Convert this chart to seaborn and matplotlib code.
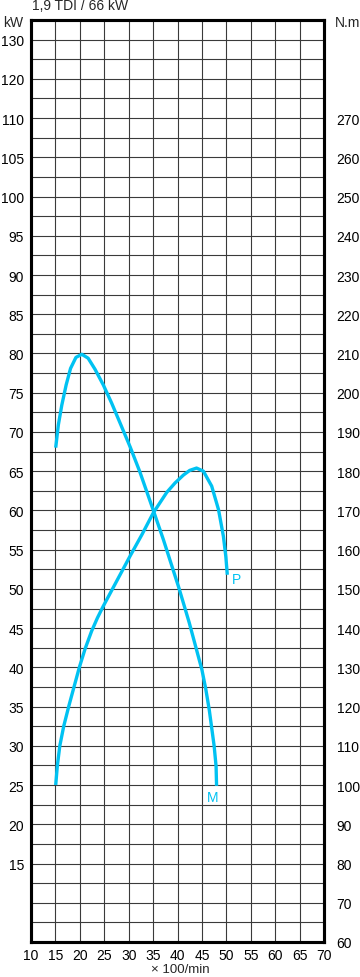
import matplotlib
matplotlib.use("Agg")
import matplotlib.pyplot as plt
from matplotlib.ticker import MultipleLocator, FixedLocator
import seaborn as sns
import pandas as pd

# ---- data ----
title = "1,9 TDI / 66 kW"
x_label = "× 100/min"

power_rpm = [15.06, 15.4, 15.9, 16.7, 17.8, 19.9, 21.1, 22.4, 23.6, 24.8, 27.55, 30.3, 32.7, 35.05, 37.8, 39.5, 41.2, 42.5, 43.9, 45.3, 47.0, 48.4, 49.4, 49.9, 50.2]
power_kw = [25.0, 27.5, 30.0, 32.5, 35.2, 40.0, 42.4, 44.6, 46.3, 47.8, 51.0, 54.2, 56.9, 59.7, 62.3, 63.5, 64.5, 65.1, 65.4, 65.0, 63.1, 60.1, 56.7, 54.1, 51.8]

torque_rpm = [15.06, 15.6, 16.3, 17.2, 18.1, 19.2, 20.4, 21.7, 23.1, 24.8, 26.5, 28.2, 30.3, 32.3, 35.05, 37.1, 40.2, 41.4, 42.4, 45.0, 45.8, 46.5, 47.5, 47.9, 48.0]
torque_nm = [186.0, 191.8, 196.8, 202.0, 206.2, 209.0, 209.8, 208.8, 206.0, 202.0, 197.4, 192.4, 186.2, 179.8, 170.0, 162.6, 150.6, 145.6, 141.4, 129.4, 124.4, 119.2, 110.0, 104.8, 99.8]

x_ticks = list(range(10, 75, 5))
kw_tick_values = list(range(15, 125, 5))
kw_tick_labels = [str(v) for v in range(15, 115, 5)] + ["120", "130"]
nm_ticks = list(range(60, 280, 10))

curve_color = "#00C2F2"

sns.set_theme(style="white")
plt.rcParams["font.family"] = ["Liberation Sans", "DejaVu Sans"]

fig = plt.figure(figsize=(3.6, 9.78), dpi=100)
ax = fig.add_axes([31 / 360, 35 / 978, 293 / 360, 922 / 978])
ax2 = ax.twinx()

ax.set_xlim(10, 70)
ax.set_ylim(5, 122.5)
ax2.set_ylim(60, 295)

ax.set_xticks(x_ticks)
ax.set_xticklabels([str(v) for v in x_ticks])
ax.yaxis.set_major_locator(FixedLocator(kw_tick_values))
ax.set_yticklabels(kw_tick_labels)
ax.yaxis.set_minor_locator(MultipleLocator(2.5))
ax2.set_yticks(nm_ticks)
ax2.set_yticklabels([str(v) for v in nm_ticks])

ax.grid(True, which="major", axis="x", color="#3a3a3a", linewidth=0.8)
ax.grid(True, which="both", axis="y", color="#3a3a3a", linewidth=0.8)
ax2.grid(False)
ax.set_axisbelow(True)

ax.tick_params(axis="both", which="both", length=0, labelsize=10, colors="black")
ax.tick_params(axis="y", pad=5)
ax.tick_params(axis="x", pad=4)
ax2.tick_params(axis="y", length=0, labelsize=10, colors="black", pad=9)

power_df = pd.DataFrame({"rpm": power_rpm, "kw": power_kw})
torque_df = pd.DataFrame({"rpm": torque_rpm, "nm": torque_nm})
sns.lineplot(data=power_df, x="rpm", y="kw", ax=ax, sort=False, color=curve_color,
             linewidth=2.4, solid_capstyle="butt", solid_joinstyle="round")
sns.lineplot(data=torque_df, x="rpm", y="nm", ax=ax2, sort=False, color=curve_color,
             linewidth=2.4, solid_capstyle="butt", solid_joinstyle="round")

ax.set_xlabel("")
ax.set_ylabel("")
ax2.set_ylabel("")

for a in (ax, ax2):
    for s in a.spines.values():
        s.set_visible(True)
        s.set_color("black")
        s.set_linewidth(2.2)

ax.text(51.1, 51.2, "P", color=curve_color, fontsize=10, ha="left", va="center")
ax2.text(47.1, 97.0, "M", color=curve_color, fontsize=10, ha="center", va="center")

fig.text(32 / 360, 1 - 6 / 978, title, fontsize=10, ha="left", va="center")
fig.text(3 / 360, 1 - 23 / 978, "kW", fontsize=10, ha="left", va="center")
fig.text(335 / 360, 1 - 23 / 978, "N.m", fontsize=10, ha="left", va="center")
fig.text(180 / 360, 1 - 970 / 978, x_label, fontsize=9.5, ha="center", va="center")

fig.savefig("out.png", dpi=100)
